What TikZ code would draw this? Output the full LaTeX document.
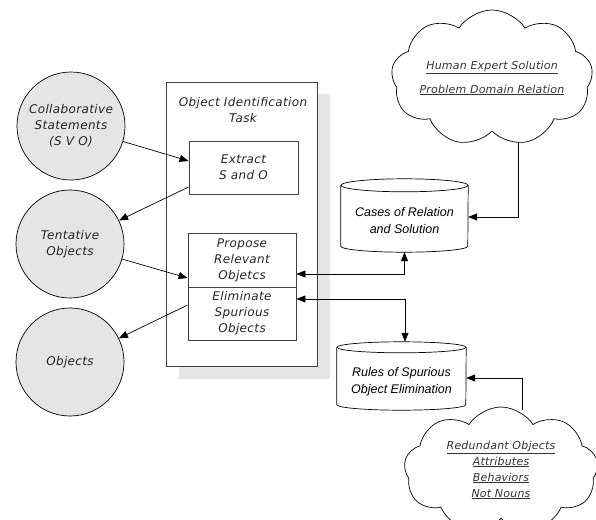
\documentclass[tikz,border=0pt]{standalone}
\usepackage{fontspec}
\setmainfont{DejaVu Sans}[LetterSpace=3]
\newfontfamily\arialfont{Liberation Sans}
\newfontfamily\cloudfont{DejaVu Sans}[LetterSpace=2]
\usetikzlibrary{arrows.meta,shapes.symbols,calc}
\begin{document}
\begin{tikzpicture}[x=1pt,y=-1pt,
  tip/.style={-{Triangle[length=9pt,width=7pt]}},
  dtip/.style={{Triangle[length=9pt,width=7pt]}-{Triangle[length=9pt,width=7pt]}},
  conn/.style={line width=0.7pt},
  txt/.style={font=\fontsize{12}{16}\selectfont\itshape, align=center, text=black!85},
  circ/.style={circle, draw, line width=0.7pt, fill=black!10, minimum size=108pt, inner sep=0pt, txt},
  stepbox/.style={rectangle, draw=black!75, line width=0.8pt, fill=white, minimum width=109pt, txt},
  cyltxt/.style={font=\arialfont\fontsize{12.5}{17}\selectfont\itshape, align=center},
  cloudnode/.style={cloud, draw, line width=0.7pt, cloud puffs=9, cloud puff arc=115, cloud ignores aspect, inner sep=0pt,
     font=\cloudfont\fontsize{11}{16}\selectfont\itshape, align=center, text=black!80}
]
\useasboundingbox (0,0) rectangle (596,519);

% circles
\node[circ] (collab) at (71,126) {Collaborative\\Statements\\(S V O)};
\node[circ] (tent) at (70,244) {Tentative\\Objects};
\node[circ] (objs) at (70,362) {Objects};

% task box with shadow
\fill[black!10] (179,94) rectangle (330,379);
\node[rectangle, draw=black!75, line width=0.8pt, fill=white, minimum width=151pt, minimum height=284pt, inner sep=0pt] (task) at (241.5,224) {};
\node[txt] (tasktitle) at (243,110) {Object Identification\\Task};

\node[stepbox, minimum height=53pt] (extract) at (243.5,167.5) {Extract\\S and O};
\node[stepbox, minimum width=108pt, minimum height=54pt] (propose) at (242,260) {Propose\\Relevant\\Objetcs};
\node[stepbox, minimum width=108pt, minimum height=53pt] (elim) at (242,313.5) {Eliminate\\Spurious\\Objects};

% cylinders
\node[minimum width=127pt, minimum height=73pt, inner sep=0pt] (cases) at (404.5,215.5) {};
\draw[line width=0.7pt, fill=white] ($(cases.north west)+(0,6.5)$) -- ($(cases.south west)+(0,-6)$)
   arc[start angle=180, end angle=360, x radius=63.5pt, y radius=6pt] -- ($(cases.north east)+(0,6.5)$);
\draw[line width=0.7pt] ($(cases.north)+(0,6.5)$) ellipse[x radius=63.5pt, y radius=6.5pt];
\node[cyltxt] (casestxt) at ($(cases.center)+(0,5)$) {Cases of Relation\\and Solution};

\node[minimum width=129pt, minimum height=68pt, inner sep=0pt] (rules) at (401.5,376) {};
\draw[line width=0.7pt, fill=white] ($(rules.north west)+(0,5.5)$) -- ($(rules.south west)+(0,-5.5)$)
   arc[start angle=180, end angle=360, x radius=64.5pt, y radius=5.5pt] -- ($(rules.north east)+(0,5.5)$);
\draw[line width=0.7pt] ($(rules.north)+(0,5.5)$) ellipse[x radius=64.5pt, y radius=5.5pt];
\node[cyltxt] (rulestxt) at ($(rules.center)+(0,6)$) {Rules of Spurious\\Object Elimination};

% clouds
\node[cloudnode, minimum width=192pt, minimum height=136pt] (cloud1) at (492,78) {\underline{Human Expert Solution}\\[8pt]\underline{Problem Domain Relation}};
\node[cloudnode, minimum width=194pt, minimum height=126pt] (cloud2) at (501,470) {\underline{Redundant Objects}\\\underline{Attributes}\\\underline{Behaviors}\\\underline{Not Nouns}};
\coordinate (c1out) at (518,142);
\coordinate (c2out) at (522,410);

% connectors
\draw[conn,tip] (collab) -- ($(extract.west)+(0,-6.5)$);
\draw[conn,tip] ($(extract.west)+(0,19.5)$) -- (tent);
\draw[conn,tip] (tent) -- ($(propose.west)+(0,18)$);
\draw[conn,tip] ($(elim.west)+(0,-8.5)$) -- (objs);
\draw[conn,dtip] ($(propose.east)+(0,14)$) -| (cases.south);
\draw[conn,dtip] ($(elim.east)+(0,-14.5)$) -| ($(rules.north)+(3.5,0)$);
\draw[conn,tip] (c1out) |- ($(cases.east)+(0,1.5)$);
\draw[conn,tip] (c2out) |- ($(rules.east)+(0,2)$);
\end{tikzpicture}
\end{document}
